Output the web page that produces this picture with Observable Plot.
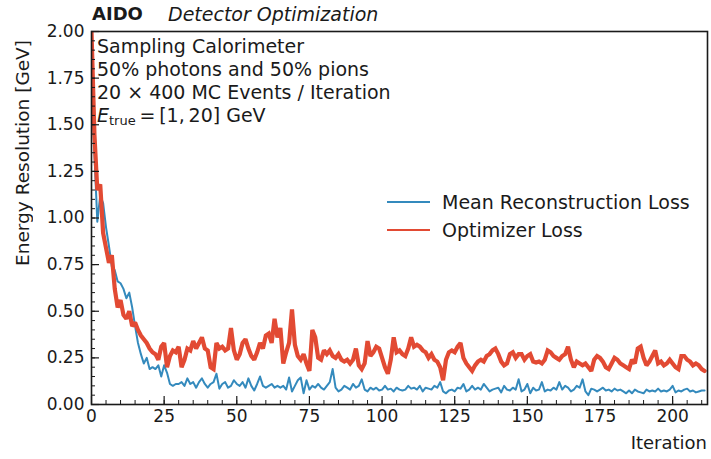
<!DOCTYPE html>
<html><head><meta charset="utf-8">
<script src="https://cdn.jsdelivr.net/npm/d3@7"></script>
<script src="https://cdn.jsdelivr.net/npm/@observablehq/plot@0.6"></script>
<style>
body{margin:0;background:#fff;font-family:"DejaVu Sans",sans-serif;}
#wrap{position:relative;width:711px;height:459px;overflow:hidden;}
.ov{position:absolute;color:#1a1a1a;white-space:nowrap;font-family:"DejaVu Sans",sans-serif;}
</style></head><body><div id="wrap"></div>
<script>
// Mean reconstruction loss per iteration (0..211)
const meanRecoLoss = [
2.0,1.35,0.98,1.12,1.08,0.95,0.85,0.74,0.72,0.66,
0.65,0.62,0.57,0.60,0.52,0.42,0.33,0.27,0.22,0.25,
0.19,0.20,0.19,0.21,0.15,0.21,0.17,0.11,0.10,0.11,
0.11,0.12,0.10,0.14,0.11,0.12,0.09,0.12,0.14,0.11,
0.09,0.11,0.12,0.165,0.085,0.11,0.12,0.09,0.10,0.13,
0.11,0.10,0.12,0.09,0.14,0.10,0.075,0.11,0.15,0.10,
0.09,0.10,0.11,0.09,0.10,0.09,0.10,0.08,0.145,0.07,
0.10,0.13,0.145,0.06,0.13,0.08,0.10,0.09,0.11,0.09,
0.08,0.10,0.12,0.19,0.09,0.07,0.08,0.10,0.09,0.08,
0.11,0.09,0.10,0.135,0.08,0.07,0.09,0.08,0.09,0.075,
0.08,0.10,0.08,0.085,0.07,0.09,0.08,0.075,0.08,0.10,
0.085,0.09,0.08,0.10,0.07,0.09,0.085,0.08,0.10,0.09,
0.12,0.07,0.06,0.075,0.08,0.07,0.09,0.085,0.11,0.07,
0.08,0.10,0.08,0.09,0.08,0.11,0.09,0.07,0.08,0.085,
0.09,0.065,0.10,0.08,0.075,0.09,0.08,0.135,0.07,0.08,
0.11,0.06,0.09,0.075,0.08,0.12,0.07,0.08,0.075,0.09,
0.08,0.12,0.08,0.10,0.09,0.07,0.08,0.10,0.09,0.135,
0.07,0.05,0.085,0.08,0.07,0.08,0.09,0.075,0.08,0.07,
0.085,0.075,0.08,0.07,0.06,0.075,0.06,0.08,0.07,0.065,
0.06,0.08,0.07,0.075,0.07,0.085,0.07,0.075,0.07,0.08,
0.10,0.065,0.075,0.07,0.08,0.085,0.07,0.075,0.065,0.07,
0.075,0.075
];
// Optimizer loss per iteration (0..211)
const optimizerLoss = [
2.0,1.45,1.15,1.18,0.92,0.84,0.76,0.80,0.62,0.52,
0.56,0.48,0.46,0.50,0.42,0.44,0.40,0.37,0.35,0.33,
0.30,0.28,0.27,0.24,0.31,0.33,0.20,0.26,0.29,0.28,
0.31,0.20,0.24,0.30,0.29,0.34,0.30,0.33,0.36,0.30,
0.29,0.20,0.19,0.33,0.30,0.31,0.29,0.30,0.41,0.29,
0.24,0.27,0.33,0.35,0.30,0.26,0.24,0.28,0.33,0.30,
0.37,0.38,0.33,0.46,0.36,0.41,0.22,0.28,0.33,0.51,
0.32,0.26,0.24,0.27,0.22,0.18,0.40,0.36,0.25,0.24,
0.29,0.27,0.29,0.26,0.25,0.27,0.24,0.23,0.24,0.22,
0.24,0.30,0.21,0.19,0.22,0.34,0.26,0.28,0.31,0.30,
0.25,0.20,0.165,0.24,0.36,0.28,0.29,0.27,0.26,0.30,
0.36,0.31,0.32,0.31,0.29,0.28,0.25,0.27,0.24,0.23,
0.20,0.13,0.24,0.28,0.29,0.28,0.31,0.33,0.25,0.22,
0.20,0.18,0.21,0.23,0.24,0.23,0.26,0.27,0.29,0.30,
0.27,0.23,0.21,0.22,0.27,0.28,0.25,0.27,0.27,0.24,
0.26,0.27,0.23,0.225,0.23,0.22,0.24,0.29,0.28,0.26,
0.25,0.24,0.26,0.27,0.31,0.24,0.20,0.23,0.22,0.21,
0.22,0.20,0.18,0.24,0.26,0.25,0.23,0.20,0.19,0.22,
0.25,0.24,0.22,0.21,0.20,0.19,0.24,0.22,0.30,0.31,
0.25,0.21,0.23,0.26,0.29,0.22,0.23,0.21,0.22,0.24,
0.22,0.20,0.19,0.26,0.26,0.24,0.23,0.21,0.22,0.21,
0.19,0.18
];
const seriesNames = ["Mean Reconstruction Loss", "Optimizer Loss"];
const seriesColors = ["#348ABD", "#E24A33"];
const xMajorTicks = [0, 25, 50, 75, 100, 125, 150, 175, 200];
const yMajorTicks = [0, 0.25, 0.5, 0.75, 1.0, 1.25, 1.5, 1.75, 2.0];
const xMinorTicks = d3.range(0, 212, 5);
const yMinorTicks = d3.range(0, 2.001, 0.05);
const infoLines = ["Sampling Calorimeter", "50% photons and 50% pions", "20 × 400 MC Events / Iteration"];

const reco = meanRecoLoss.map((v, i) => ({i, v}));
const opt = optimizerLoss.map((v, i) => ({i, v}));

const chart = Plot.plot({
  width: 711, height: 459,
  marginLeft: 91, marginRight: 4, marginTop: 31, marginBottom: 55,
  style: {fontFamily: "DejaVu Sans", fontSize: "17px", color: "#1a1a1a", background: "#fff"},
  x: {domain: [0, 212], label: null},
  y: {domain: [0, 2], label: null},
  marks: [
    Plot.line(reco, {x: "i", y: "v", stroke: seriesColors[0], strokeWidth: 2, clip: true}),
    Plot.line(opt, {x: "i", y: "v", stroke: seriesColors[1], strokeWidth: 4.2, strokeLinejoin: "miter", strokeMiterlimit: 2, clip: true}),
    Plot.axisX({ticks: xMajorTicks, tickSize: 0, tickPadding: 5, tickFormat: d => String(d), fontSize: 17, label: null}),
    Plot.axisY({ticks: yMajorTicks, tickSize: 0, tickPadding: 7, tickFormat: d3.format(".2f"), fontSize: 17, label: null}),
    Plot.axisX({ticks: xMajorTicks, tickSize: -8, text: null, label: null, strokeWidth: 1.2}),
    Plot.axisX({ticks: xMinorTicks, tickSize: -4, text: null, label: null, strokeWidth: 1}),
    Plot.axisY({ticks: yMajorTicks, tickSize: -8, text: null, label: null, strokeWidth: 1.2}),
    Plot.axisY({ticks: yMinorTicks, tickSize: -4, text: null, label: null, strokeWidth: 1}),
    Plot.frame({stroke: "#1a1a1a", strokeWidth: 1.6})
  ]
});

const wrap = document.getElementById("wrap");
wrap.appendChild(chart);

function ov(html, css) {
  const d = document.createElement("div");
  d.className = "ov";
  d.innerHTML = html;
  Object.assign(d.style, css);
  wrap.appendChild(d);
  return d;
}
// title
ov("<b>AIDO</b>", {left: "92px", top: "3px", fontSize: "18px", lineHeight: "22px"});
ov("<i>Detector Optimization</i>", {left: "168px", top: "3px", fontSize: "19px", lineHeight: "22px"});
// info box
ov(infoLines.join("<br>") + "<br><i>E</i><sub style='font-size:13px;vertical-align:-3px'>true</sub>&thinsp;=&thinsp;[1,&thinsp;20] GeV",
   {left: "97px", top: "35px", fontSize: "19px", lineHeight: "23px"});
// legend
const legHtml = seriesNames.map((n, k) =>
  `<div style="height:28px;display:flex;align-items:center"><svg width="43" height="4" style="margin-right:12px"><line x1="0" y1="2" x2="43" y2="2" stroke="${seriesColors[k]}" stroke-width="2"/></svg>${n}</div>`).join("");
ov(legHtml, {left: "387px", top: "188px", fontSize: "19px", lineHeight: "28px"});
// axis labels
ov("Iteration", {right: "4px", top: "432px", fontSize: "18px", lineHeight: "22px"});
ov("Energy Resolution [GeV]", {left: "12px", top: "40px", fontSize: "18.5px", lineHeight: "22px", writingMode: "vertical-rl", transform: "rotate(180deg)"});
</script></body></html>
